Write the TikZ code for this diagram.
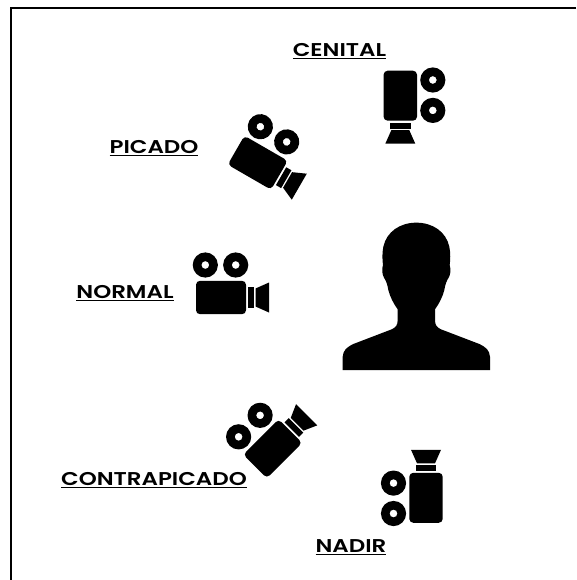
\documentclass[tikz,border=0pt]{standalone}
\usepackage{fontspec}
\setmainfont{Poppins SemiBold}[FakeStretch=1.24]
\tikzset{
  x=1pt,y=-1pt,
  shot/.style={font=\fontsize{18.5pt}{22pt}\selectfont,inner sep=0pt,text=black},
  frameline/.style={line width=2pt,black},
  camera/.pic={
    \fill[rounded corners=4pt] (-25,-16.7) rectangle (25,16.7);
    \fill (27,-10.3) rectangle (33,10.3);
    \fill (34.5,-9) -- (48,-15) -- (48,15) -- (34.5,9) -- cycle;
    \fill[even odd rule] (-15.7,-32.5) circle[radius=12.6] (-15.7,-32.5) circle[radius=3.9];
    \fill[even odd rule] (14.7,-32.5) circle[radius=12.6] (14.7,-32.5) circle[radius=3.9];
  }
}
\begin{document}
\begin{tikzpicture}
\useasboundingbox (0,0) rectangle (576,580);
\fill[white] (0,0) rectangle (576,580);
\coordinate (topright) at (576,8);
\coordinate (corner) at (11,8);
\coordinate (bottomleft) at (11,580);
\draw[frameline] (topright) -- (corner) -- (bottomleft);

\pic (cenital) [rotate=-90] at (400.3,95.7) {camera};
\pic (picado) [rotate=-30] at (257.7,162.7) {camera};
\pic (normal) at (221,297.5) {camera};
\pic (contra) [rotate=45] at (272.7,448.7) {camera};
\pic (nadir) [rotate=90] at (426,497.8) {camera};

\begin{scope}[shift={(330,210)},scale=1/3]
\fill (38,480) -- (38,440) .. controls (40,420) and (50,412) .. (70,402)
  -- (185,358) .. controls (198,352) and (203,345) .. (203,330)
  -- (203,298) .. controls (190,280) and (180,260) .. (175,240)
  .. controls (172,222) and (168,212) .. (162,203)
  .. controls (156,192) and (155,178) .. (159,165)
  .. controls (157,150) and (156,130) .. (160,110)
  .. controls (170,65) and (210,38) .. (259,38)
  .. controls (308,38) and (348,65) .. (358,110)
  .. controls (362,130) and (361,150) .. (359,165)
  .. controls (363,178) and (362,192) .. (356,203)
  .. controls (350,212) and (346,222) .. (343,240)
  .. controls (338,260) and (328,280) .. (315,298)
  -- (315,330) .. controls (315,345) and (320,352) .. (333,358)
  -- (448,402) .. controls (468,412) and (478,420) .. (480,440)
  -- (480,480) -- cycle;
\end{scope}

\node[shot] (lcenital) at (339.5,51.5) {\underline{CENITAL}};
\node[shot] (lpicado) at (154,148.5) {\underline{PICADO}};
\node[shot] (lnormal) at (125,293.5) {\underline{NORMAL}};
\node[shot] (lcontra) at (154,480) {\underline{CONTRAPICADO}};
\node[shot] (lnadir) at (351,547.5) {\underline{NADIR}};
\end{tikzpicture}
\end{document}
